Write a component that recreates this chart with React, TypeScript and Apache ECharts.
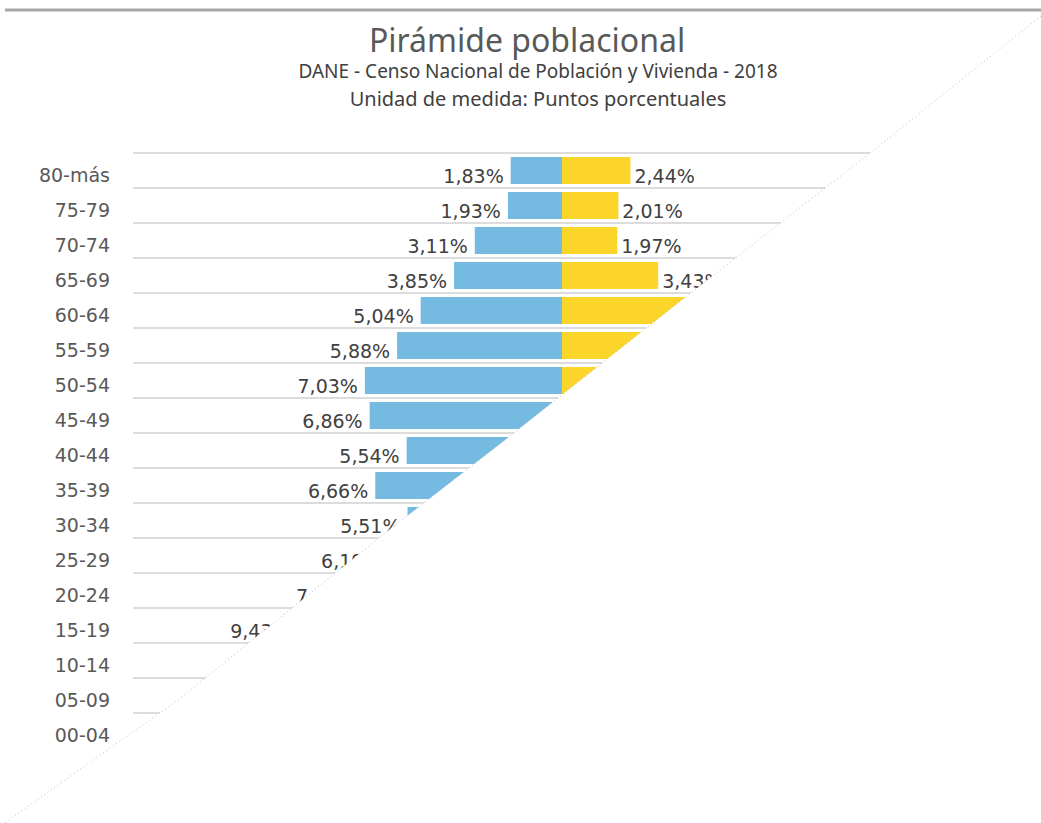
import React, { useEffect, useRef } from "react";
import * as echarts from "echarts";

const categories = [
  "00-04", "05-09", "10-14", "15-19", "20-24", "25-29", "30-34", "35-39", "40-44",
  "45-49", "50-54", "55-59", "60-64", "65-69", "70-74", "75-79", "80-más",
];
// Left (blue) group, % of population
const hombres = [8.12, 8.47, 9.05, 9.43, 7.08, 6.19, 5.51, 6.66, 5.54, 6.86, 7.03, 5.88, 5.04, 3.85, 3.11, 1.93, 1.83];
// Right (yellow) group, % of population
const mujeres = [7.64, 8.02, 8.61, 8.95, 7.32, 6.47, 5.92, 6.94, 5.96, 7.18, 7.36, 6.21, 5.37, 3.43, 1.97, 2.01, 2.44];

const titleText = "Pirámide poblacional";
const subtitle1 = "DANE - Censo Nacional de Población y Vivienda - 2018";
const subtitle2 = "Unidad de medida: Puntos porcentuales";

// page-curl overlay outline (white region covering the lower right)
const curlEdge = [
  [1041, 16], [870, 153], [683, 299], [505, 440], [380, 537], [178, 700], [13, 817], [0, 826],
];

const fmt = (v: number) => Math.abs(v).toFixed(2).replace(".", ",") + "%";

export default function App() {
  const ref = useRef<HTMLDivElement>(null);
  useEffect(() => {
    if (!ref.current) return;
    const chart = echarts.init(ref.current, null, { renderer: "svg" });
    const labelFont = {
      fontFamily: "DejaVu Sans",
      fontSize: 19,
      color: "#404040",
    };
    chart.setOption({
      animation: false,
      backgroundColor: "#ffffff",
      title: [
        {
          text: titleText,
          left: 522,
          top: 18,
          textAlign: "center",
          textStyle: { fontFamily: "Noto Sans", fontWeight: "normal", fontSize: 32, lineHeight: 32, color: "#595959" },
        },
        {
          text: subtitle1,
          left: 533,
          top: 56,
          textAlign: "center",
          textStyle: { fontFamily: "Noto Sans", fontWeight: "normal", fontSize: 19, lineHeight: 19, color: "#404040" },
        },
        {
          text: subtitle2,
          left: 533,
          top: 83,
          textAlign: "center",
          textStyle: { fontFamily: "Noto Sans", fontWeight: "normal", fontSize: 20, lineHeight: 20, color: "#404040" },
        },
      ],
      grid: { left: 133, right: 50, top: 153, bottom: 75, containLabel: false },
      xAxis: {
        type: "value",
        min: -15.3,
        max: 15.3,
        axisLine: { show: false },
        axisTick: { show: false },
        axisLabel: { show: false },
        splitLine: { show: false },
      },
      yAxis: {
        type: "category",
        data: categories,
        axisLine: { show: false },
        axisTick: { show: false },
        axisLabel: {
          fontFamily: "DejaVu Sans",
          fontSize: 19,
          color: "#595959",
          margin: 23,
          verticalAlign: "top",
          lineHeight: 9,
        },
        splitLine: { show: true, lineStyle: { color: "#dcdcdc", width: 2 } },
      },
      series: [
        {
          name: "Hombres",
          type: "bar",
          stack: "total",
          barWidth: 27,
          data: hombres.map((v) => -v),
          itemStyle: { color: "#74BAE1" },
          label: {
            show: true,
            position: "left",
            distance: 7,
            offset: [0, 5],
            formatter: (p: any) => fmt(p.value),
            ...labelFont,
          },
        },
        {
          name: "Mujeres",
          type: "bar",
          stack: "total",
          barWidth: 27,
          data: mujeres,
          itemStyle: { color: "#FCD52A" },
          label: {
            show: true,
            position: "right",
            distance: 4,
            offset: [0, 5],
            formatter: (p: any) => fmt(p.value),
            ...labelFont,
          },
        },
      ],
      graphic: [
        {
          type: "line",
          z: 100,
          shape: { x1: 5, y1: 10, x2: 1041, y2: 10 },
          style: { stroke: "#a6a6a6", lineWidth: 3 },
        },
        {
          type: "polygon",
          z: 100,
          shape: { points: [...curlEdge, [1041, 826]] },
          style: { fill: "#ffffff", stroke: "none" },
        },
        {
          type: "polyline",
          z: 101,
          shape: { points: curlEdge },
          style: { stroke: "#bdbdbd", lineWidth: 1, lineDash: [1, 3], fill: "none" },
        },
      ],
    });
    return () => chart.dispose();
  }, []);
  return (
    <div
      ref={ref}
      style={{ position: "absolute", left: 0, top: 0, width: 1041, height: 823 }}
    />
  );
}
